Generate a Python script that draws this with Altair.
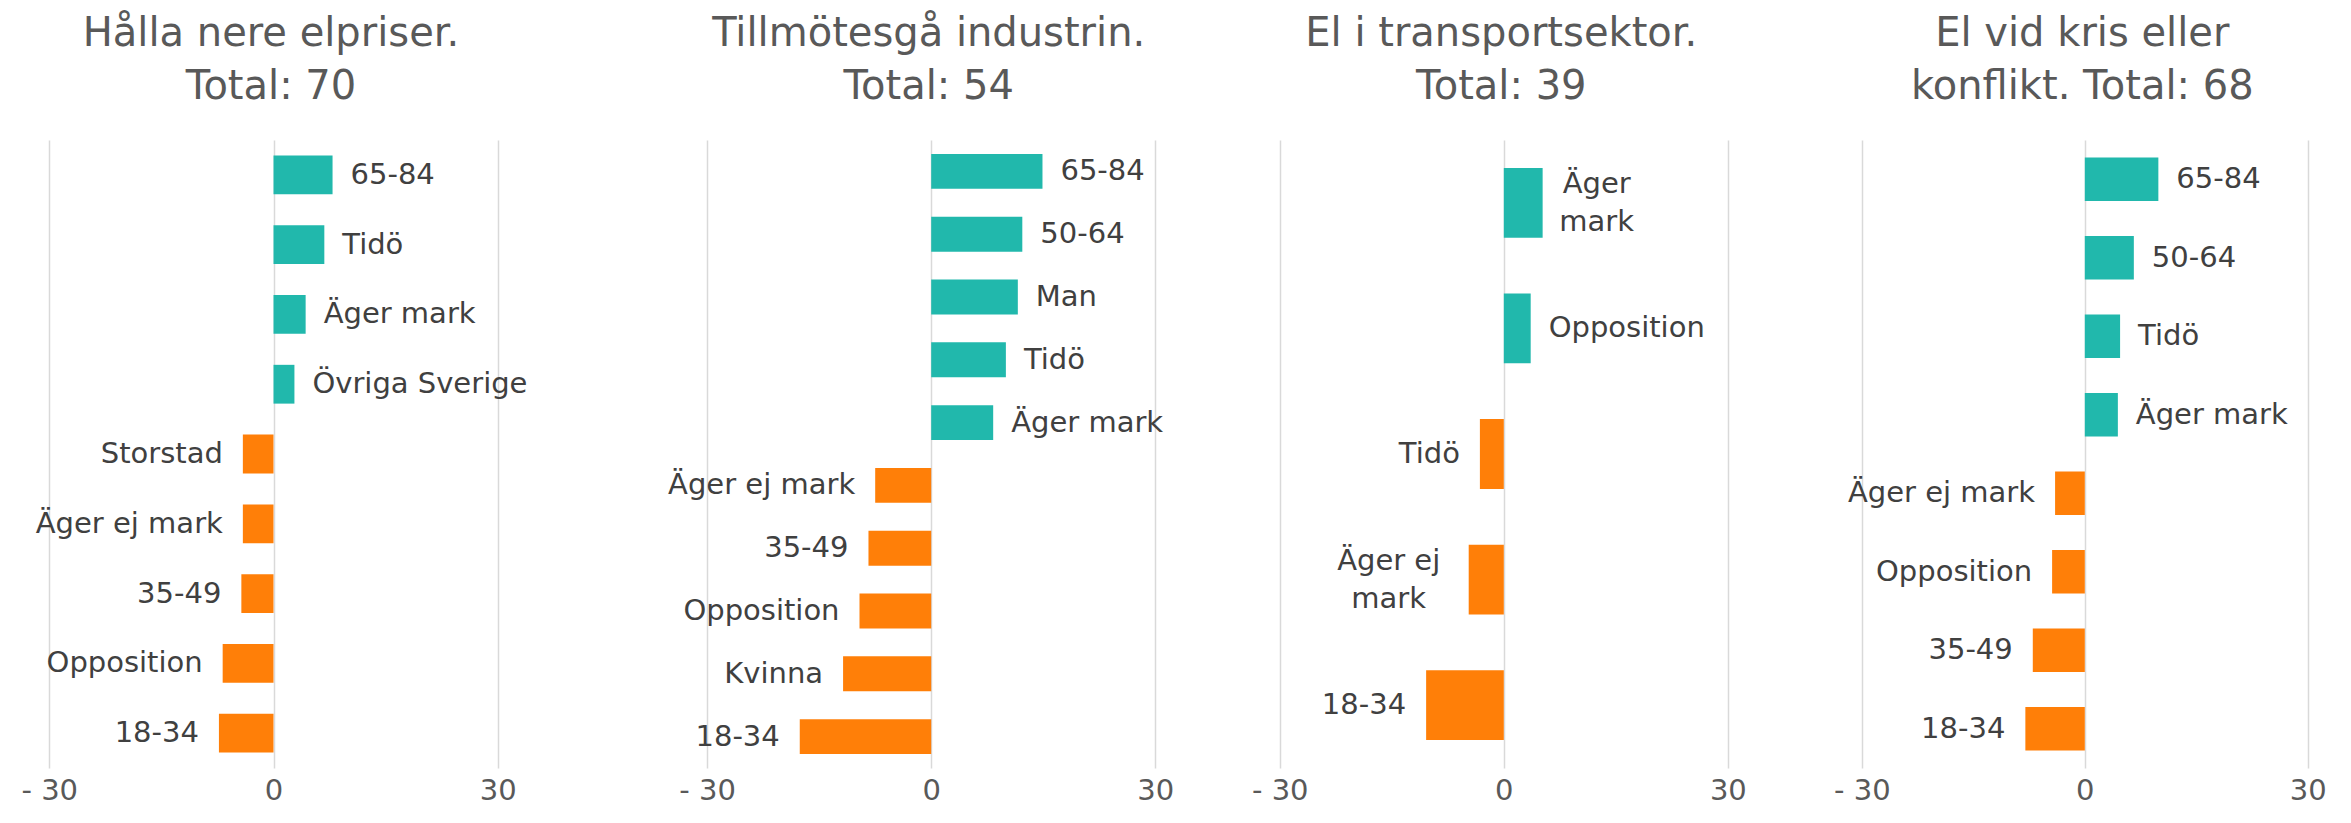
import altair as alt
import pandas as pd

# ---------------- data ----------------
titles = [
    ["Hålla nere elpriser.", "Total: 70"],
    ["Tillmötesgå industrin.", "Total: 54"],
    ["El i transportsektor.", "Total: 39"],
    ["El vid kris eller", "konflikt. Total: 68"],
]

p1_cats = ["65-84", "Tidö", "Äger mark", "Övriga Sverige", "Storstad",
           "Äger ej mark", "35-49", "Opposition", "18-34"]
p1_labels = p1_cats
p1_vals = [7.9, 6.8, 4.3, 2.8, -4.1, -4.1, -4.3, -6.8, -7.3]

p2_cats = ["65-84", "50-64", "Man", "Tidö", "Äger mark",
           "Äger ej mark", "35-49", "Opposition", "Kvinna", "18-34"]
p2_labels = p2_cats
p2_vals = [14.9, 12.2, 11.6, 10.0, 8.3, -7.5, -8.4, -9.6, -11.8, -17.6]

p3_cats = ["Äger mark", "Opposition", "Tidö", "Äger ej mark", "18-34"]
p3_labels = ["Äger\nmark", "Opposition", "Tidö", "Äger ej\nmark", "18-34"]
p3_vals = [5.2, 3.6, -3.2, -4.7, -10.4]

p4_cats = ["65-84", "50-64", "Tidö", "Äger mark",
           "Äger ej mark", "Opposition", "35-49", "18-34"]
p4_labels = p4_cats
p4_vals = [9.9, 6.6, 4.75, 4.45, -4.0, -4.4, -7.0, -8.0]

tick_values = [-30, 0, 30]

panels_data = [
    (p1_cats, p1_labels, p1_vals),
    (p2_cats, p2_labels, p2_vals),
    (p3_cats, p3_labels, p3_vals),
    (p4_cats, p4_labels, p4_vals),
]

# ---------------- layout / style ----------------
EDGES = [8, 600, 1217, 1795, 2343]          # panel borders in page px
ZERO = [273.5, 931.2, 1503.8, 2084.8]        # page x of value 0
PX_PER_UNIT = [7.475, 7.468, 7.468, 7.43]
PLOT_H = 628

TEAL = "#21B8AC"
ORANGE = "#FF7F08"
FONT = "DejaVu Sans"
TITLE_COLOR = "#595959"
LABEL_COLOR = "#404040"
LABEL_SIZE = 29
LINE_H = 38


def panel(i):
    cats, labels, vals = panels_data[i]
    df = pd.DataFrame({
        "cat": cats,
        "label": labels,
        "val": vals,
        "sign": ["pos" if v > 0 else "neg" for v in vals],
    })
    left, right = EDGES[i], EDGES[i + 1]
    k = PX_PER_UNIT[i]
    lo = (left - ZERO[i]) / k
    hi = (right - ZERO[i]) / k
    width = right - left
    group_center = (left + right) / 2
    title_dx = (ZERO[i] - 2.5) - group_center

    x = alt.X(
        "val:Q",
        scale=alt.Scale(domain=[lo, hi], nice=False, zero=False),
        axis=alt.Axis(
            values=tick_values, grid=True, gridColor="#D9D9D9", gridWidth=1.5,
            ticks=False, tickSize=0, domain=False, title=None,
            labelExpr="datum.value < 0 ? '- ' + format(-datum.value, 'd') : format(datum.value, 'd')",
            labelFont=FONT, labelFontSize=29, labelColor=TITLE_COLOR,
            labelPadding=8, labelFlush=False, labelOverlap=False,
        ),
    )
    y = alt.Y(
        "cat:N", sort=cats, axis=None,
        scale=alt.Scale(paddingInner=0.444, paddingOuter=0.222),
    )
    base = alt.Chart(df)
    bars = base.mark_bar().encode(
        x=x, y=y,
        color=alt.Color("sign:N", scale=alt.Scale(domain=["pos", "neg"], range=[TEAL, ORANGE]), legend=None),
    )
    text_enc = dict(x=alt.X("val:Q"), y=alt.Y("cat:N", sort=cats), text="label:N")
    text_style = dict(baseline="middle", font=FONT, fontSize=LABEL_SIZE,
                      color=LABEL_COLOR, lineBreak="\n", lineHeight=LINE_H)
    single = "indexof(datum.label, '\\n') < 0"
    multi = "indexof(datum.label, '\\n') >= 0"

    layers = [
        bars,
        base.transform_filter(f"datum.val > 0 && {single}").mark_text(
            align="left", dx=18, **text_style).encode(**text_enc),
        base.transform_filter(f"datum.val < 0 && {single}").mark_text(
            align="right", dx=-20, **text_style).encode(**text_enc),
        base.transform_filter(f"datum.val > 0 && {multi}").mark_text(
            align="center", dx=54, dy=-LINE_H / 2, **text_style).encode(**text_enc),
        base.transform_filter(f"datum.val < 0 && {multi}").mark_text(
            align="center", dx=-80, dy=-LINE_H / 2, **text_style).encode(**text_enc),
    ]

    return alt.layer(*layers).properties(
        width=width,
        height=PLOT_H,
        title=alt.Title(
            text=titles[i], font=FONT, fontSize=40, fontWeight="normal",
            color=TITLE_COLOR, anchor="middle", frame="group",
            baseline="bottom", offset=-7, lineHeight=53, dx=title_dx,
        ),
    )


chart = alt.HConcatChart(
    hconcat=[panel(i) for i in range(4)],
    spacing=0,
    bounds="flush",
).properties(
    padding={"left": 0, "top": 6, "right": 0, "bottom": 0},
    background="white",
).configure_view(stroke=None)

chart.save("out.html", embed_options={"renderer": "svg", "actions": False})
